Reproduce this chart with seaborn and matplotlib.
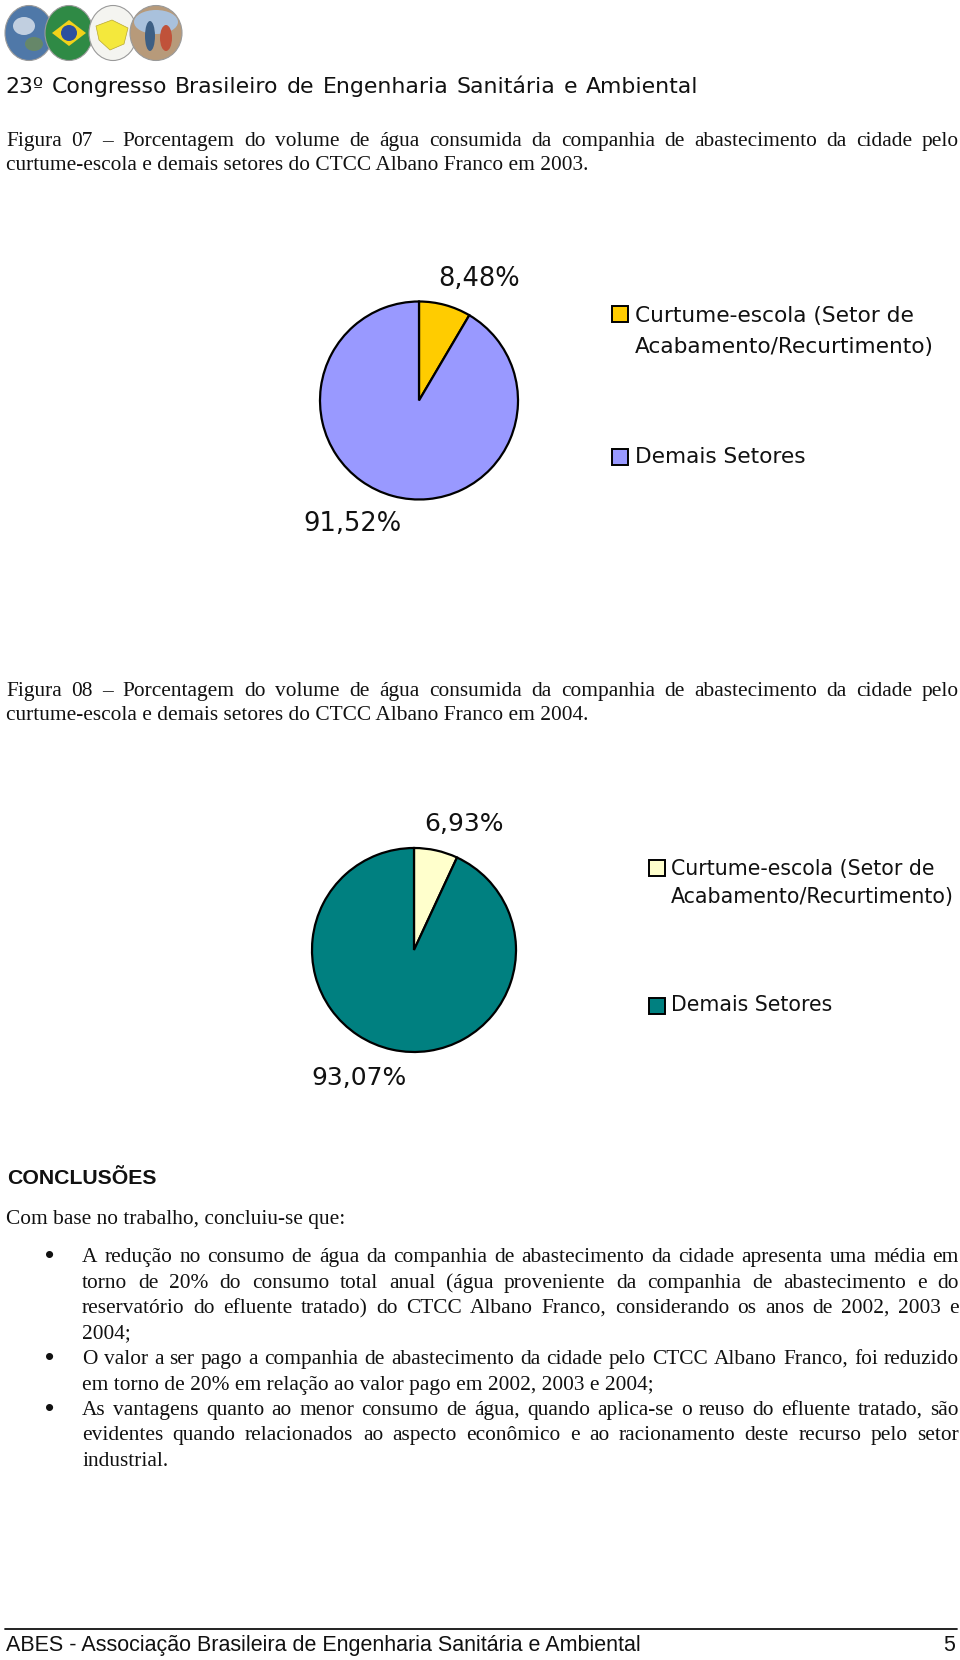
import matplotlib
matplotlib.use('Agg')
import matplotlib.pyplot as plt
import seaborn as sns
from matplotlib.patches import Rectangle, Ellipse, Polygon

# ---------------- data ----------------
legend_labels = ['Curtume-escola (Setor de\nAcabamento/Recurtimento)', 'Demais Setores']
values_2003 = [8.48, 91.52]
values_2004 = [6.93, 93.07]
colors_2003 = ['#FFCC00', '#9999FF']
colors_2004 = ['#FFFFCC', '#008080']

header_title = '23º Congresso Brasileiro de Engenharia Sanitária e Ambiental'
caption_07 = ['Figura 07 – Porcentagem do volume de água consumida da companhia de abastecimento da cidade pelo',
              'curtume-escola e demais setores do CTCC Albano Franco em 2003.']
caption_08 = ['Figura 08 – Porcentagem do volume de água consumida da companhia de abastecimento da cidade pelo',
              'curtume-escola e demais setores do CTCC Albano Franco em 2004.']
conclusions_heading = 'CONCLUSÕES'
conclusions_intro = 'Com base no trabalho, concluiu-se que:'
bullets = [
    ['A redução no consumo de água da companhia de abastecimento da cidade apresenta uma média em',
     'torno de 20% do consumo total anual (água proveniente da companhia de abastecimento e do',
     'reservatório do efluente tratado) do CTCC Albano Franco, considerando os anos de 2002, 2003 e',
     '2004;'],
    ['O valor a ser pago a companhia de abastecimento da cidade pelo CTCC Albano Franco, foi reduzido',
     'em torno de 20% em relação ao valor pago em 2002, 2003 e 2004;'],
    ['As vantagens quanto ao menor consumo de água, quando aplica-se o reuso do efluente tratado, são',
     'evidentes quando relacionados ao aspecto econômico e ao racionamento deste recurso pelo setor',
     'industrial.'],
]
footer_text = 'ABES - Associação Brasileira de Engenharia Sanitária e Ambiental'
page_number = '5'


def pct(v):
    return f'{v:.2f}%'.replace('.', ',')


# ---------------- figure ----------------
sns.set_theme(style='white')
plt.rcParams['font.family'] = ['Liberation Sans', 'DejaVu Sans']
SERIF = ['Liberation Serif', 'DejaVu Serif']
SANS = ['Liberation Sans', 'DejaVu Sans']
WIDE = ['DejaVu Sans']

W, H = 960, 1660
fig = plt.figure(figsize=(W / 100, H / 100), dpi=100)
fig.patch.set_facecolor('white')
page = fig.add_axes([0, 0, 1, 1])
page.set_xlim(0, W)
page.set_ylim(H, 0)
page.axis('off')
renderer = fig.canvas.get_renderer()


def tw(s, **kw):
    t = page.text(0, 0, s, **kw)
    w = t.get_window_extent(renderer).width
    t.remove()
    return w


def adv(s, **kw):
    # advance width of s (pen to pen), measured between two sentinel glyphs
    return tw('I' + s + 'I', **kw) - tw('II', **kw)


def line_text(line, x0, x1, y, justify=True, **kw):
    words = line.split(' ')
    if not justify or len(words) < 2:
        page.text(x0, y, line, ha='left', va='baseline', **kw)
        return
    ws = [adv(w, **kw) for w in words]
    gap = (x1 - x0 - sum(ws)) / (len(words) - 1)
    x = x0
    for w, wd in zip(words, ws):
        page.text(x, y, w, ha='left', va='baseline', **kw)
        x += wd + gap


# ---------------- header logo (decorative) ----------------
logo = [
    (29, 33, 48, 55, '#4f78a8'),
    (69, 33, 48, 55, '#2f8a45'),
    (113, 33, 48, 55, '#f4f4f0'),
    (156, 33, 52, 55, '#b79a7a'),
]
for cx, cy, w, h, c in logo:
    page.add_patch(Ellipse((cx, cy), w, h, facecolor=c, edgecolor='#9a9a9a', lw=0.8, zorder=2))
page.add_patch(Ellipse((24, 26), 22, 18, facecolor='#dfe6ef', edgecolor='none', zorder=3, alpha=0.8))
page.add_patch(Ellipse((34, 44), 18, 14, facecolor='#6d8c5a', edgecolor='none', zorder=3, alpha=0.8))
page.add_patch(Polygon([(52, 33), (69, 20), (86, 33), (69, 46)], closed=True,
                       facecolor='#f2d21a', edgecolor='none', zorder=3))
page.add_patch(Ellipse((69, 33), 16, 16, facecolor='#2c4f9e', edgecolor='none', zorder=4))
page.add_patch(Polygon([(96, 26), (112, 20), (128, 28), (124, 44), (110, 50), (99, 40)], closed=True,
                       facecolor='#f4e83c', edgecolor='#b9a830', lw=0.5, zorder=3))
page.add_patch(Ellipse((156, 22), 44, 24, facecolor='#a9c1dc', edgecolor='none', zorder=3))
page.add_patch(Ellipse((150, 36), 10, 30, facecolor='#3d5f84', edgecolor='none', zorder=4))
page.add_patch(Ellipse((166, 38), 12, 26, facecolor='#c0523a', edgecolor='none', zorder=4))

line_text(header_title, 5, 698, 93, True, fontsize=15.8, family=WIDE, color='#111111')

# ---------------- captions ----------------
body_kw = dict(fontsize=15.4, family=SERIF, color='#111111')
X0, X1 = 6, 959
line_text(caption_07[0], X0, X1, 146, True, **body_kw)
line_text(caption_07[1], X0, X1, 170, False, **body_kw)
line_text(caption_08[0], X0, X1, 696, True, **body_kw)
line_text(caption_08[1], X0, X1, 720, False, **body_kw)


# ---------------- pies ----------------
def add_pie(values, colors, cx, cy, r):
    m = 1.08
    ax = fig.add_axes([(cx - r * m) / W, 1 - (cy + r * m) / H, 2 * r * m / W, 2 * r * m / H])
    ax.pie(values, colors=colors, startangle=90, counterclock=False,
           wedgeprops=dict(edgecolor='black', linewidth=1.6))
    ax.set_xlim(-m, m)
    ax.set_ylim(-m, m)
    ax.set_aspect('equal')
    ax.axis('off')
    return ax


def add_legend(colors, x_sq, y1, y2, x_txt, gap, size):
    sq = 16
    for color, y in zip(colors, (y1, y2)):
        page.add_patch(Rectangle((x_sq - sq / 2, y - sq / 2), sq, sq,
                                 facecolor=color, edgecolor='black', lw=1.4, zorder=3))
    kw = dict(fontsize=size, family=WIDE, color='#111111', ha='left', va='baseline')
    off = size * 0.5
    first = legend_labels[0].split('\n')
    page.text(x_txt, y1 + off, first[0], **kw)
    page.text(x_txt, y1 + off + gap, first[1], **kw)
    page.text(x_txt, y2 + off - 2, legend_labels[1], **kw)


pct_kw = dict(family=WIDE, color='#111111', ha='center', va='baseline')

add_pie(values_2003, colors_2003, 419, 400.5, 99)
page.text(479, 286, pct(values_2003[0]), fontsize=18.5, **pct_kw)
page.text(352, 531, pct(values_2003[1]), fontsize=18.5, **pct_kw)
add_legend(colors_2003, 620, 314, 457, 635, 31, 15.6)

add_pie(values_2004, colors_2004, 414, 950, 102)
page.text(464, 831, pct(values_2004[0]), fontsize=18, **pct_kw)
page.text(359, 1085, pct(values_2004[1]), fontsize=18, **pct_kw)
add_legend(colors_2004, 657, 868, 1006, 671, 28, 14.8)

# ---------------- conclusions ----------------
page.text(7, 1184, conclusions_heading, fontsize=15.3, family=SANS, fontweight='bold',
          color='#111111', ha='left', va='baseline')
page.text(6, 1224, conclusions_intro, ha='left', va='baseline', **body_kw)

y = 1262
step = 25.5
for para in bullets:
    page.text(50, y + 1, '•', ha='center', va='baseline', fontsize=19, family=SANS, color='#111111')
    for i, ln in enumerate(para):
        last = i == len(para) - 1
        line_text(ln, 82, 959, round(y), not last, **body_kw)
        y += step

# ---------------- footer ----------------
page.plot([5, 957], [1629, 1629], color='#111111', lw=1.3)
page.text(6, 1651, footer_text, fontsize=15.5, family=SANS, color='#111111', ha='left', va='baseline')
page.text(955, 1651, page_number, fontsize=15.5, family=SANS, color='#111111', ha='right', va='baseline')

fig.savefig('out.png', dpi=100, facecolor='white')
